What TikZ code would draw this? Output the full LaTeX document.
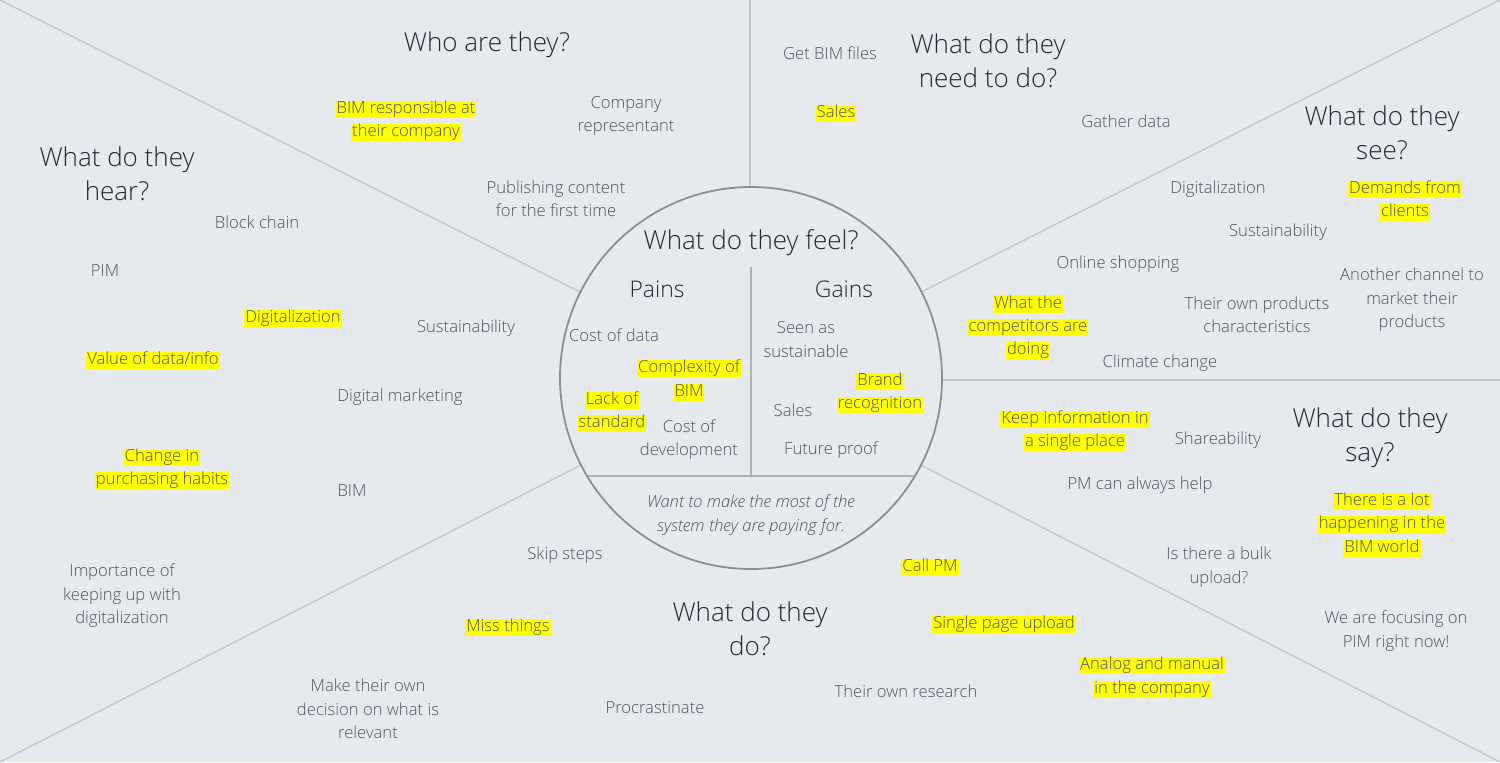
\documentclass[tikz,border=0pt]{standalone}
\usepackage{fontspec}
\setmainfont{Open Sans Light}[ItalicFont={Open Sans Light Italic}]
\definecolor{bg}{HTML}{E6EAEE}
\definecolor{txt}{HTML}{4E545D}
\definecolor{head}{HTML}{232931}
\definecolor{hly}{HTML}{FFFF00}
\definecolor{spoke}{HTML}{C3C5C8}
\definecolor{ring}{HTML}{8E8E8E}
\newcommand\hl[1]{{\setlength\fboxsep{0pt}\colorbox{hly}{\kern1pt\rule[-0.28em]{0pt}{1.0em}#1\kern1pt}}}
\tikzset{
  sm/.style={inner sep=0pt, align=center, text=txt, yshift=-1.5bp, font=\fontsize{16.7}{23.5}\selectfont},
  hd/.style={inner sep=0pt, align=center, text=head, yshift=-1.5bp, font=\fontsize{26.1}{34}\selectfont},
  sub/.style={inner sep=0pt, align=center, text=head, yshift=-1.5bp, font=\fontsize{23}{28}\selectfont},
  spokeline/.style={draw=spoke, line width=1.4pt},
}
\begin{document}
\begin{tikzpicture}[x=1bp,y=-1bp]
\fill[bg] (0,0) rectangle (1500,762);
\useasboundingbox (0,0) rectangle (1500,762);
% spokes
\coordinate (c) at (751,378);
\coordinate (tl) at (0,0);
\coordinate (tr) at (1500,0);
\coordinate (bl) at (0,762);
\coordinate (br) at (1500,762);
\coordinate (top) at (750,0);
\coordinate (rm) at (1500,380);
\coordinate (rc) at (751,380);
\coordinate (tc) at (750,378);
\draw[spokeline] (tl) -- (c);
\draw[spokeline] (tr) -- (c);
\draw[spokeline] (bl) -- (c);
\draw[spokeline] (br) -- (c);
\draw[spokeline] (top) -- (tc);
\draw[spokeline] (rm) -- (rc);
% circle
\node[circle, minimum size=382bp, inner sep=0pt, fill=bg, draw=ring, line width=1.8pt] (circ) at (c) {};
\coordinate (h1) at (588,476);
\coordinate (h2) at (914,476);
\coordinate (v1) at (751,267);
\coordinate (v2) at (751,476);
\draw[draw=spoke!90!black, line width=1.8pt] (h1) -- (h2);
\draw[draw=spoke!90!black, line width=1.8pt] (v1) -- (v2);

% headings
\node[hd] (who) at (487,43) {Who are they?};
\node[hd] (need) at (988,59.5) {What do they\\need to do?};
\node[hd] (see) at (1382,131) {What do they\\see?};
\node[hd] (hear) at (117,172) {What do they\\hear?};
\node[hd] (feel) at (751,241) {What do they feel?};
\node[sub] (pains) at (657,288) {Pains};
\node[sub] (gains) at (844,288) {Gains};
\node[hd] (say) at (1370,436) {What do they\\say?};
\node[hd] (do) at (750,627.5) {What do they\\do?};

% who are they
\node[sm] (w1) at (406,119.5) {\hl{BIM responsible at}\\\hl{their company}};
\node[sm] (w2) at (626,114.5) {Company\\representant};
\node[sm] (w3) at (556,197.5) {Publishing content\\for the first time};

% hear
\node[sm] (e1) at (257,221) {Block chain};
\node[sm] (e2) at (105,269) {PIM};
\node[sm] (e3) at (293,317) {\hl{Digitalization}};
\node[sm] (e4) at (466,327) {Sustainability};
\node[sm] (e5) at (153,359) {\hl{Value of data/info}};
\node[sm] (e6) at (400,396) {Digital marketing};
\node[sm] (e7) at (162,467.5) {\hl{Change in}\\\hl{purchasing habits}};
\node[sm] (e8) at (352,489) {BIM};
\node[sm] (e9) at (122,594.5) {Importance of\\keeping up with\\digitalization};

% need to do
\node[sm] (n1) at (830,52) {Get BIM files};
\node[sm] (n2) at (836,112) {\hl{Sales}};
\node[sm] (n3) at (1126,120) {Gather data};

% see
\node[sm] (s1) at (1218,188) {Digitalization};
\node[sm] (s2) at (1405,199.5) {\hl{Demands from}\\\hl{clients}};
\node[sm] (s3) at (1278,231) {Sustainability};
\node[sm] (s4) at (1118,263) {Online shopping};
\node[sm] (s5) at (1412,298.5) {Another channel to\\market their\\products};
\node[sm] (s6) at (1028,326) {\hl{What the}\\\hl{competitors are}\\\hl{doing}};
\node[sm] (s7) at (1257,313.5) {Their own products\\characteristics};
\node[sm] (s8) at (1160,362) {Climate change};

% feel
\node[sm] (f1) at (614,334) {Cost of data};
\node[sm] (f2) at (689,379) {\hl{Complexity of}\\\hl{BIM}};
\node[sm] (f3) at (612,410.5) {\hl{Lack of}\\\hl{standard}};
\node[sm] (f4) at (689,438) {Cost of\\development};
\node[sm] (f5) at (806,338) {Seen as\\sustainable};
\node[sm] (f6) at (880,391.5) {\hl{Brand}\\\hl{recognition}};
\node[sm] (f7) at (793,409) {Sales};
\node[sm] (f8) at (831,449) {Future proof};
\node[sm, font=\fontsize{16.7}{23.5}\selectfont\itshape] (f9) at (751,513.5) {Want to make the most of the\\system they are paying for.};

% say
\node[sm] (y1) at (1075,429.5) {\hl{Keep information in}\\\hl{a single place}};
\node[sm] (y2) at (1218,439) {Shareability};
\node[sm] (y3) at (1140,484) {PM can always help};
\node[sm] (y4) at (1382,523.5) {\hl{There is a lot}\\\hl{happening in the}\\\hl{BIM world}};
\node[sm] (y5) at (1219,565.5) {Is there a bulk\\upload?};
\node[sm] (y6) at (1396,629.5) {We are focusing on\\PIM right now!};

% do
\node[sm] (d1) at (930,566) {\hl{Call PM}};
\node[sm] (d2) at (1004,623) {\hl{Single page upload}};
\node[sm] (d3) at (1152,676) {\hl{Analog and manual}\\\hl{in the company}};
\node[sm] (d4) at (906,690) {Their own research};
\node[sm] (d5) at (565,554) {Skip steps};
\node[sm] (d6) at (508,626) {\hl{Miss things}};
\node[sm] (d7) at (368,707.5) {Make their own\\decision on what is\\relevant};
\node[sm] (d8) at (655,706) {Procrastinate};
\end{tikzpicture}
\end{document}
